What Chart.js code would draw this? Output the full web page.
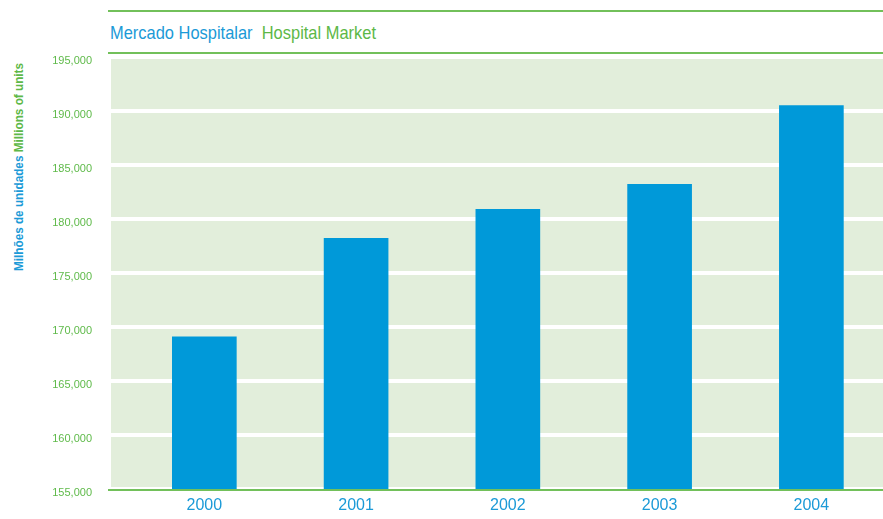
<!DOCTYPE html>
<html>
<head>
<meta charset="utf-8">
<script src="https://cdn.jsdelivr.net/npm/chart.js@4.4.0/dist/chart.umd.min.js"></script>
<style>
  html, body { margin: 0; padding: 0; background: #ffffff; overflow: hidden; }
  #wrap { position: relative; width: 883px; height: 519px; }
  #market-chart { position: absolute; left: 0; top: 0; }
  .rule { position: absolute; left: 108px; width: 775px; height: 2px; background: #72c05a; }
  #title {
    position: absolute; left: 110px; top: 23px;
    transform-origin: left top;
    font: 19px/19px "Liberation Sans", sans-serif;
    white-space: nowrap;
  }
  #y-title {
    position: absolute; left: 12px; top: 271px;
    transform-origin: left top;
    font: bold 13px/14px "Liberation Sans", sans-serif;
    white-space: nowrap;
  }
  .pt { color: #1b9ad7; }
  .en { color: #5db847; }
</style>
</head>
<body>
<div id="wrap">
  <div class="rule" style="top:10px"></div>
  <div id="title"><span class="pt">Mercado Hospitalar</span>&nbsp; <span class="en">Hospital Market</span></div>
  <div class="rule" style="top:51.5px"></div>
  <div id="y-title"><span class="pt">Milhões de unidades</span> <span class="en">Millions of units</span></div>
  <canvas id="market-chart" width="883" height="519"></canvas>
</div>

<script>
// data
const years = ["2000", "2001", "2002", "2003", "2004"];
const units = [169100, 178200, 180900, 183200, 190500];
const yTicks = [155000, 160000, 165000, 170000, 175000, 180000, 185000, 190000, 195000];

const barBlue = "#0099d9";
const panelGreen = "#e2eedb";
const lineGreen = "#72c05a";
const labelGreen = "#5fba4a";

// the original uses a condensed face, so squeeze the html text to its width
function squeeze(el, targetWidth, rotate) {
  const w = el.getBoundingClientRect().width;
  const s = targetWidth / w;
  el.style.transform = (rotate ? "rotate(-90deg) " : "") + "scaleX(" + s + ")";
}
squeeze(document.getElementById("title"), 266, false);
squeeze(document.getElementById("y-title"), 208, true);

// light green panel behind the plot
const panelPlugin = {
  id: "panel",
  beforeDraw(chart) {
    const a = chart.chartArea;
    const ctx = chart.ctx;
    ctx.save();
    ctx.fillStyle = panelGreen;
    ctx.fillRect(a.left, a.top, a.right - a.left, a.bottom - a.top);
    ctx.restore();
  },
  afterDraw(chart) {
    // green base line, runs a bit left of the panel
    const a = chart.chartArea;
    const ctx = chart.ctx;
    ctx.save();
    ctx.strokeStyle = lineGreen;
    ctx.lineWidth = 2;
    ctx.beginPath();
    ctx.moveTo(108, a.bottom + 1);
    ctx.lineTo(a.right, a.bottom + 1);
    ctx.stroke();
    ctx.restore();
  }
};

const marketCanvas = document.getElementById("market-chart");

let marketChart = new Chart(marketCanvas, {
  type: "bar",
  data: {
    datasets: [{
      data: years.map((y, i) => ({ x: i, y: units[i] })),
      backgroundColor: barBlue,
      borderWidth: 0,
      barThickness: 64
    }]
  },
  options: {
    responsive: false,
    animation: false,
    layout: { padding: { left: 0, right: 0, top: 57, bottom: 0 } },
    plugins: {
      legend: { display: false },
      tooltip: { enabled: false }
    },
    scales: {
      x: {
        type: "linear",
        offset: false,
        min: -0.615,
        max: 4.472,
        grid: { display: false, drawTicks: false, offset: false },
        border: { display: false },
        afterFit(scale) { scale.height = 30; },
        ticks: {
          stepSize: 1,
          includeBounds: false,
          padding: 7,
          color: "#1b9ad7",
          font: { family: "'Liberation Sans'", size: 16 },
          callback: (v) => years[v] !== undefined ? years[v] : ""
        }
      },
      y: {
        min: yTicks[0],
        max: yTicks[yTicks.length - 1],
        afterFit(scale) { scale.width = 111; },
        afterBuildTicks(scale) { scale.ticks = yTicks.map(v => ({ value: v })); },
        grid: { color: "#ffffff", lineWidth: 4, drawTicks: false },
        border: { display: false },
        ticks: {
          padding: 19,
          labelOffset: 4,
          color: labelGreen,
          font: { family: "'Liberation Sans'", size: 11 },
          callback: (v) => v.toLocaleString("en-US")
        }
      }
    }
  },
  plugins: [panelPlugin]
});
</script>
</body>
</html>
